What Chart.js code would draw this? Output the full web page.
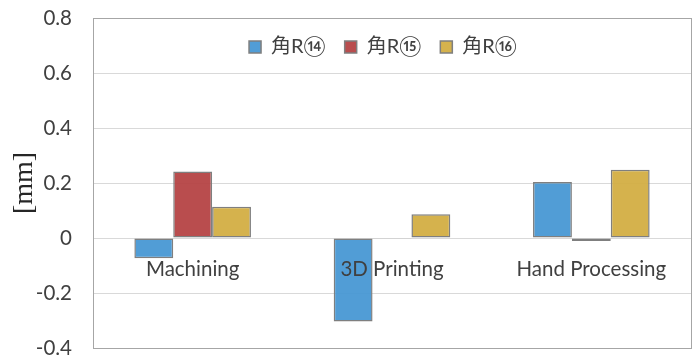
<!DOCTYPE html>
<html>
<head>
<meta charset="utf-8">
<script src="https://cdn.jsdelivr.net/npm/chart.js@4"></script>
<style>
  html, body { margin: 0; padding: 0; background: #fff; }
  #wrap { width: 697px; height: 356px; }
</style>
</head>
<body>
<div id="wrap"><canvas id="c" width="697" height="356"></canvas></div>
<script>
// Categories and measured deviations [mm]
const categories = ['Machining', '3D Printing', 'Hand Processing'];
const seriesNames = ['角R⑭', '角R⑮', '角R⑯'];
const r14 = [-0.074, -0.304, 0.204];
const r15 = [0.242, -0.003, -0.011];
const r16 = [0.114, 0.086, 0.248];
const yTicks = [-0.4, -0.2, 0, 0.2, 0.4, 0.6, 0.8];

const fills = ['rgba(68,150,211,0.93)', 'rgba(180,64,65,0.93)', 'rgba(210,172,64,0.93)'];
const textColor = '#404040';

// Frame around the plot area; legend laid out as a single row inside it
const frame = {
  id: 'frame',
  beforeUpdate(chart) {
    if (chart.legend) chart.legend.isHorizontal = () => true;
  },
  afterLayout(chart) {
    if (chart.legend) {
      chart.legend.left += 84;
      chart.legend.right += 84;
    }
  },
  afterDatasetsDraw(chart) {
    const { ctx, chartArea: a } = chart;
    ctx.save();
    ctx.strokeStyle = '#a6a6a6';
    ctx.lineWidth = 1;
    ctx.strokeRect(Math.round(a.left) + 0.5, Math.round(a.top) + 0.5,
      Math.round(a.right - a.left), Math.round(a.bottom - a.top));
    ctx.restore();
  }
};

const chart = new Chart(document.getElementById('c'), {
  type: 'bar',
  data: {
    labels: categories,
    datasets: [r14, r15, r16].map((d, i) => ({
      label: seriesNames[i],
      data: d,
      backgroundColor: fills[i],
      borderColor: '#7f7f7f',
      borderWidth: 1.5,
      borderSkipped: false,
      categoryPercentage: 0.585,
      barPercentage: 1.0
    }))
  },
  options: {
    responsive: false,
    animation: false,
    layout: { padding: { left: 0, right: 6, top: 18, bottom: 8 } },
    plugins: {
      legend: {
        position: 'chartArea',
        align: 'center',
        labels: {
          boxWidth: 12,
          boxHeight: 12,
          padding: 19,
          color: textColor,
          font: { family: "Lato, 'Noto Sans CJK JP'", size: 20 }
        }
      },
      tooltip: { enabled: false }
    },
    scales: {
      x: {
        position: { y: 0 },
        grid: { display: false },
        border: { display: false },
        ticks: {
          z: 1,
          color: textColor,
          padding: 11,
          autoSkip: false,
          maxRotation: 0,
          font: { family: 'Lato', size: 20.5 }
        }
      },
      y: {
        min: -0.4,
        max: 0.8,
        afterBuildTicks(scale) {
          scale.ticks = yTicks.map(v => ({ value: v }));
        },
        afterFit(scale) {
          scale.width = 93;
          scale.paddingTop = 0;
          scale.paddingBottom = 0;
        },
        grid: { color: '#d9d9d9', lineWidth: 1, drawTicks: false },
        border: { display: false },
        ticks: {
          color: textColor,
          padding: 21,
          font: { family: 'Lato', size: 20.5 },
          callback: v => String(Math.round(v * 10) / 10)
        },
        title: {
          display: true,
          text: '[mm]',
          color: '#262626',
          padding: { top: 8, bottom: 0 },
          font: { family: "'Liberation Serif'", size: 28 }
        }
      }
    }
  },
  plugins: [frame]
});
chart.update();
</script>
</body>
</html>
